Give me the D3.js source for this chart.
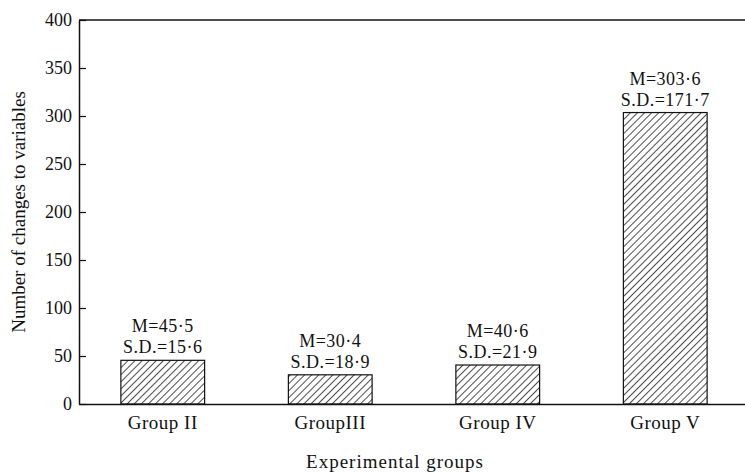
<!DOCTYPE html>
<html>
<head>
<meta charset="utf-8">
<script src="https://cdn.jsdelivr.net/npm/d3@7"></script>
<style>
  body { margin: 0; background: #fff; }
  svg text { font-family: "Liberation Serif", "Times New Roman", serif; fill: #111; }
</style>
</head>
<body>
<div id="chart"></div>
<script>
// chart data
const groups = ["Group II", "GroupIII", "Group IV", "Group V"];
const means = [45.5, 30.4, 40.6, 303.6];
const sds = [15.6, 18.9, 21.9, 171.7];
const yTicks = [0, 50, 100, 150, 200, 250, 300, 350, 400];

const width = 745;
const height = 473;
const margin = { top: 20, right: 0, bottom: 69, left: 79 };

const svg = d3.select("#chart").append("svg")
    .attr("width", width)
    .attr("height", height);

// diagonal hatch for the bars
const defs = svg.append("defs");
const pattern = defs.append("pattern")
    .attr("id", "hatch")
    .attr("patternUnits", "userSpaceOnUse")
    .attr("width", 5)
    .attr("height", 5)
    .attr("patternTransform", "rotate(45)");
pattern.append("rect").attr("width", 5).attr("height", 5).attr("fill", "#fff");
pattern.append("line")
    .attr("x1", 0).attr("y1", 0).attr("x2", 0).attr("y2", 5)
    .attr("stroke", "#111").attr("stroke-width", 1.5);

const x = d3.scaleBand()
    .domain(groups)
    .range([margin.left, 749])
    .paddingInner(0.5)
    .paddingOuter(0.25);

const y = d3.scaleLinear()
    .domain([0, 400])
    .range([height - margin.bottom, margin.top]);

const fmt = v => d3.format(".1f")(v).replace(".", "·");

// top frame line
svg.append("line")
    .attr("x1", margin.left).attr("x2", width)
    .attr("y1", y(400)).attr("y2", y(400))
    .attr("stroke", "#111").attr("stroke-width", 1.5);

// bars
svg.selectAll("rect.bar")
    .data(groups)
    .enter()
    .append("rect")
    .attr("class", "bar")
    .attr("x", d => x(d))
    .attr("y", (d, i) => y(means[i]))
    .attr("width", x.bandwidth())
    .attr("height", (d, i) => y(0) - y(means[i]))
    .attr("fill", "url(#hatch)")
    .attr("stroke", "#111")
    .attr("stroke-width", 1.2);

// mean / SD labels above the bars
const labels = svg.selectAll("g.lab")
    .data(groups)
    .enter()
    .append("g")
    .attr("class", "lab")
    .attr("transform", (d, i) => `translate(${x(d) + x.bandwidth() / 2},${y(means[i])})`);

labels.append("text")
    .attr("y", -28)
    .attr("text-anchor", "middle")
    .style("font-size", "18px")
    .style("letter-spacing", "0.5px")
    .text((d, i) => "M=" + fmt(means[i]));

labels.append("text")
    .attr("y", -7)
    .attr("text-anchor", "middle")
    .style("font-size", "18px")
    .style("letter-spacing", "0.5px")
    .text((d, i) => "S.D.=" + fmt(sds[i]));

// y axis
const yAxis = svg.append("g")
    .attr("transform", `translate(${margin.left},0)`)
    .call(d3.axisLeft(y).tickValues(yTicks).tickSizeInner(-7).tickSizeOuter(0).tickPadding(7));
yAxis.select(".domain").attr("stroke", "#111").attr("stroke-width", 1.5);
yAxis.selectAll(".tick line").attr("stroke", "#111").attr("stroke-width", 1.2);
yAxis.selectAll(".tick text")
    .style("font-size", "18px")
    .attr("fill", "#111");

// x axis
const xAxis = svg.append("g")
    .attr("transform", `translate(0,${y(0)})`)
    .call(d3.axisBottom(x).tickSize(0).tickPadding(12));
xAxis.select(".domain").attr("stroke", "#111").attr("stroke-width", 1.5);
xAxis.selectAll(".tick text")
    .style("font-size", "19px")
    .style("letter-spacing", "0.5px")
    .attr("fill", "#111");

// axis titles
svg.append("text")
    .attr("x", 395)
    .attr("y", 468)
    .attr("text-anchor", "middle")
    .style("font-size", "19px")
    .style("letter-spacing", "1px")
    .text("Experimental groups");

svg.append("text")
    .attr("transform", "translate(25,212) rotate(-90)")
    .attr("text-anchor", "middle")
    .style("font-size", "19px")
    .text("Number of changes to variables");
</script>
</body>
</html>
